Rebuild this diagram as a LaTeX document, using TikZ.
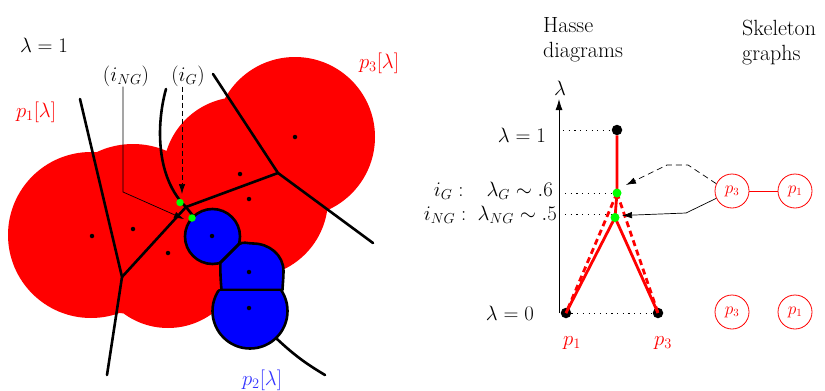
\documentclass[tikz,border=0pt]{standalone}
\usetikzlibrary{arrows.meta}
\begin{document}
\begin{tikzpicture}[x=1pt,y=-1pt,
  vor/.style={line width=2.6pt, line cap=round, line join=round},
  site/.style={circle, fill=black, inner sep=0pt, minimum size=4.5pt},
  gdot/.style={circle, fill=green, inner sep=0pt, minimum size=7.5pt},
  hdot/.style={circle, fill=black, inner sep=0pt, minimum size=10.5pt},
  hgdot/.style={circle, fill=green, inner sep=0pt, minimum size=9pt},
  lab/.style={font=\fontsize{22}{25}\selectfont, inner sep=0pt},
  skel/.style={circle, draw=red, line width=0.8pt, text=red, minimum size=34pt, inner sep=0pt, font=\fontsize{16}{18}\selectfont},
  ann/.style={line width=0.7pt, -{Latex[length=10pt,width=6.5pt]}},
  hline/.style={red, line width=2.8pt},
  dotl/.style={line width=1pt, dash pattern=on 1.2pt off 4.5pt},
  blob/.style={fill=blue, draw=black, line width=2.6pt, line join=round}
]
\useasboundingbox (0,0) rectangle (825,391);

% ---------- red balls p1[lambda], p3[lambda]
\fill[red] (295,137) circle (80pt) (240,174) circle (77pt) (250,199) circle (78pt)
  (91,235) circle (83pt) (133,229) circle (85pt) (168,253) circle (75pt);

% ---------- Voronoi skeleton
\coordinate (A1) at (80,99);
\coordinate (J0) at (122,277);
\coordinate (A2) at (107,375);
\coordinate (J1) at (186,207);
\coordinate (J2) at (278,173);
\coordinate (A3) at (213,74);
\coordinate (A4) at (373,243);
\coordinate (C1) at (166,89);
\coordinate (B1) at (194,217);
\coordinate (E1) at (277,339);
\coordinate (E2) at (325,375);
\draw[vor] (A1) -- (J0) -- (A2);
\draw[vor] (J0) -- (J1) -- (J2) -- (A3);
\draw[vor] (J2) -- (A4);
\draw[vor] (C1) .. controls (156,125) and (156,178) .. (J1);
\draw[vor] (J1) -- (B1);
\draw[vor] (E1) to[bend right=6] (E2);

% ---------- blue balls p2[lambda]
\begin{scope}
  \clip (150,150) -- (333,150) -- (150,333) -- cycle;
  \path[blob] (212.5,236.5) circle (27.5pt);
\end{scope}
\path[blob] (220.3,262.7) -- (238.6,244.4) to[out=35,in=180] (253,243.5)
  to[out=0,in=90] (283.5,271) to[out=-90,in=88] (282.5,290) -- (221.5,290)
  to[out=95,in=-90] cycle;
\begin{scope}
  \clip (150,290) rectangle (400,400);
  \path[blob] (250,311) circle (37.5pt);
\end{scope}
\draw[line width=2.6pt, line cap=round] (220.3,262.7) -- (238.6,244.4);
\draw[line width=2.6pt, line cap=round] (219,290) -- (281,290);

% ---------- sites
\foreach \p in {(295,137),(240,174),(249,199),(92,236),(133,229),(168,253),(212,236),(249,272),(249,308)}
  \node[site] at \p {};

% ---------- labels left
\node[lab] (lam1) at (44,45) {$\lambda=1$};
\node[lab, text=red] (p1lab) at (36,112) {$p_1[\lambda]$};
\node[lab, text=red] (p3lab) at (379,63) {$p_3[\lambda]$};
\node[lab, text=blue!80!white] (p2lab) at (262,380) {$p_2[\lambda]$};
\node[lab] (inng) at (126,76) {$(i_{NG})$};
\node[lab] (ing) at (188,76) {$(i_G)$};

\coordinate (ngk) at (123,192);
\coordinate (ngtip) at (184,219);
\coordinate (gtip) at (182,194);
\draw[ann] (inng.south -| ngk) -- (ngk) -- (ngtip);
\draw[ann, dash pattern=on 5pt off 3pt] (ing.south -| gtip) -- (gtip);

\node[gdot] (g1) at (180,202.5) {};
\node[gdot] (g2) at (192,218) {};

% ---------- Hasse diagram
\node[lab, anchor=north west, align=left] (hasse) at (543,17) {Hasse\\diagrams};
\node[lab, anchor=north west, align=left] (skt) at (742,20) {Skeleton\\graphs};

\coordinate (axb) at (559,313);
\coordinate (axt) at (559,99);
\draw[line width=0.8pt, -{Latex[length=11pt,width=7pt]}] (axb) -- (axt);
\node[lab] (lamax) at (560,88) {$\lambda$};

\node[hdot] (h1) at (617,130) {};
\node[hdot] (hp1) at (566,313) {};
\node[hdot] (hp3) at (658,313) {};
\coordinate (hg) at (617,193);
\coordinate (hng) at (615,217.5);

\draw[dotl] (563,130) -- (h1);
\draw[dotl] (565,193) -- (hg);
\draw[dotl] (565,214) -- (611,214);
\draw[dotl] (hp1) -- (hp3);

\draw[hline] (h1) -- (hg) -- (hng);
\draw[hline] (hng) -- (hp1.center);
\draw[hline] (hng) -- (hp3.center);
\draw[hline, dash pattern=on 6pt off 4pt] (hg) -- (hp1.center);
\draw[hline, dash pattern=on 6pt off 4pt] (hg) -- (hp3.center);

\node[hgdot] (hgd) at (hg) {};
\node[hgdot] (hngd) at (hng) {};

\node[lab, anchor=east] (l1) at (546,135) {$\lambda=1$};
\node[lab, anchor=east] (lg) at (553,191) {$i_G:\;\;\;\lambda_G\sim.6$};
\node[lab, anchor=east] (lng) at (557,215) {$i_{NG}:\;\lambda_{NG}\sim.5$};
\node[lab, anchor=east] (l0) at (534,313) {$\lambda=0$};
\node[lab, text=red] (hp1lab) at (572,343) {$p_1$};
\node[lab, text=red] (hp3lab) at (663,343) {$p_3$};

% ---------- skeleton graphs
\node[skel] (s3a) at (732,191) {$p_3$};
\node[skel] (s1a) at (795,191) {$p_1$};
\node[skel] (s3b) at (732,312) {$p_3$};
\node[skel] (s1b) at (795,312) {$p_1$};
\draw[red, line width=0.8pt] (s3a) -- (s1a);

\coordinate (k1) at (688,165);
\coordinate (k2) at (667,165);
\coordinate (ktip) at (626,185);
\coordinate (m1) at (686,213);
\coordinate (mtip) at (622,215.5);
\draw[ann, dash pattern=on 6pt off 4pt] (s3a.155) -- (k1) -- (k2) -- (ktip);
\draw[ann] (s3a.205) -- (m1) -- (mtip);
\end{tikzpicture}
\end{document}
